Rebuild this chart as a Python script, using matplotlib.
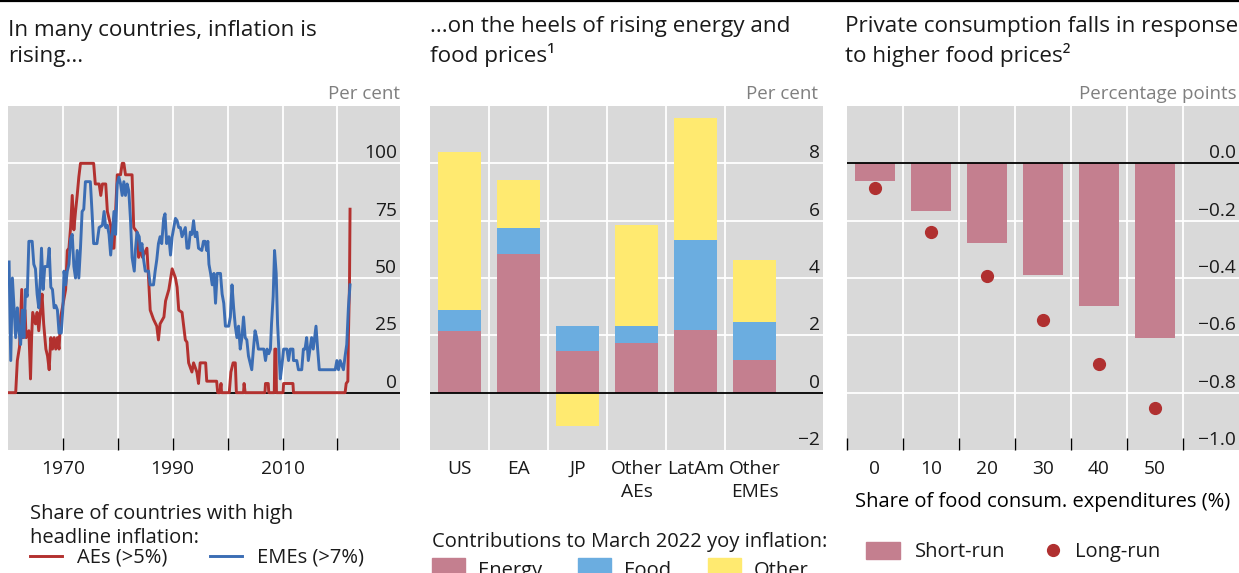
import numpy as np
import matplotlib as mpl
import matplotlib.pyplot as plt
from matplotlib.patches import Rectangle
from matplotlib.lines import Line2D

W, H = 1239, 573

# ── left panel: share of countries with high headline inflation (%) ──
ae_years = [1960.2, 1961.4, 1961.7, 1962.1, 1962.5, 1962.7, 1963.1, 1963.3, 1963.8,
            1964.1, 1964.3, 1964.5, 1965.0, 1965.3, 1965.6, 1965.9, 1966.2, 1966.5,
            1966.9, 1967.2, 1967.5, 1967.8, 1968.1, 1968.4, 1968.7, 1969.0, 1969.3,
            1969.6, 1969.9, 1970.5, 1970.8, 1971.1, 1971.4, 1971.7, 1972.0, 1972.3,
            1972.6, 1972.9, 1973.2, 1975.6, 1975.9, 1976.6, 1976.9, 1977.2, 1977.8,
            1978.1, 1978.7, 1979.0, 1979.3, 1979.6, 1979.9, 1980.5, 1980.8, 1981.1,
            1981.4, 1982.6, 1982.9, 1983.5, 1983.8, 1984.1, 1984.5, 1985.3, 1985.6,
            1985.9, 1986.5, 1987.1, 1987.4, 1987.7, 1988.4, 1988.7, 1989.3, 1989.9,
            1990.5, 1990.8, 1991.1, 1991.7, 1992.3, 1992.6, 1992.9, 1993.5, 1993.8,
            1994.4, 1994.7, 1995.0, 1996.0, 1996.2, 1998.0, 1998.2, 1998.6, 1998.8,
            1998.9, 2000.3, 2000.6, 2001.0, 2001.4, 2001.6, 2002.9, 2003.0, 2003.2,
            2006.8, 2006.9, 2007.4, 2007.5, 2008.5, 2008.6, 2008.8, 2008.9, 2010.1,
            2010.2, 2011.9, 2012.0, 2021.4, 2021.6, 2021.9, 2022.0, 2022.2, 2022.3]
ae_share = [0, 0, 14, 20, 45, 24, 36, 24, 27,
            6, 24, 35, 30, 35, 27, 35, 43, 30,
            19, 16, 10, 24, 19, 24, 19, 24, 19,
            33, 37, 45, 62, 63, 72, 86, 71, 79,
            86, 94, 100, 100, 91, 91, 86, 91, 91,
            79, 73, 63, 63, 79, 95, 95, 100, 100,
            95, 95, 72, 70, 59, 63, 59, 63, 50,
            36, 32, 29, 23, 30, 33, 40, 45, 54,
            50, 46, 36, 35, 23, 22, 13, 9, 13,
            9, 4, 13, 13, 5, 5, 0, 0, 4,
            0, 0, 9, 13, 13, 0, 0, 4, 0,
            0, 4, 4, 0, 0, 19, 19, 0, 0,
            4, 4, 0, 0, 4, 5, 24, 47, 80]

eme_years = [1960.2, 1960.5, 1960.8, 1961.1, 1961.4, 1961.7, 1962.0, 1962.3, 1962.6,
             1962.9, 1963.2, 1963.5, 1963.8, 1964.4, 1964.7, 1965.0, 1965.3, 1965.6,
             1965.9, 1966.1, 1966.4, 1966.7, 1967.2, 1967.5, 1967.8, 1968.1, 1968.4,
             1968.7, 1969.0, 1969.3, 1969.7, 1970.0, 1970.2, 1970.5, 1970.8, 1971.1,
             1971.4, 1971.7, 1972.0, 1972.3, 1972.6, 1972.9, 1973.2, 1973.5, 1973.8,
             1974.1, 1975.0, 1975.3, 1975.6, 1976.2, 1976.6, 1977.2, 1977.5, 1977.8,
             1978.1, 1978.4, 1978.7, 1979.0, 1979.3, 1979.6, 1979.9, 1980.2, 1980.5,
             1980.8, 1981.1, 1981.4, 1981.7, 1982.0, 1982.3, 1982.6, 1983.0, 1983.2,
             1983.5, 1983.9, 1984.1, 1984.4, 1984.7, 1985.0, 1985.6, 1985.9, 1986.5,
             1986.8, 1987.1, 1987.4, 1987.7, 1988.0, 1988.35, 1988.6, 1988.9, 1989.3,
             1989.6, 1989.9, 1990.2, 1990.5, 1990.8, 1991.1, 1991.4, 1991.7, 1992.0,
             1992.3, 1992.6, 1992.9, 1993.2, 1993.5, 1993.8, 1994.1, 1994.4, 1994.7,
             1995.3, 1995.6, 1995.9, 1996.2, 1996.4, 1996.6, 1996.9, 1997.2, 1997.5,
             1997.8, 1998.1, 1998.7, 1999.0, 1999.3, 1999.6, 2000.2, 2000.5, 2000.8,
             2001.1, 2001.4, 2001.7, 2002.0, 2002.3, 2002.6, 2002.9, 2003.2, 2003.5,
             2003.8, 2004.1, 2004.4, 2004.7, 2005.0, 2005.3, 2005.6, 2006.6, 2006.9,
             2007.2, 2007.5, 2007.8, 2008.0, 2008.3, 2008.55, 2008.85, 2009.1, 2009.6,
             2009.9, 2010.2, 2010.8, 2011.1, 2011.4, 2011.9, 2012.0, 2012.6, 2012.9,
             2013.5, 2013.8, 2014.1, 2014.4, 2014.7, 2015.0, 2015.3, 2015.6, 2016.1,
             2016.4, 2016.7, 2019.6, 2019.9, 2020.2, 2020.5, 2021.1, 2021.4, 2021.7,
             2022.0, 2022.3]
eme_share = [57, 14, 50, 37, 24, 37, 27, 21, 36,
             24, 45, 42, 66, 66, 56, 54, 43, 37,
             50, 63, 45, 55, 55, 63, 46, 45, 37,
             38, 36, 26, 26, 37, 53, 47, 53, 56,
             67, 69, 55, 50, 62, 50, 63, 79, 80,
             92, 92, 79, 65, 65, 72, 73, 79, 72,
             73, 69, 60, 69, 79, 69, 91, 94, 91,
             86, 92, 86, 91, 88, 76, 59, 53, 62,
             70, 68, 62, 65, 58, 53, 53, 47, 47,
             53, 58, 65, 68, 65, 76, 78, 65, 68,
             60, 68, 72, 76, 75, 72, 72, 68, 70,
             72, 63, 63, 70, 69, 75, 68, 70, 63,
             62, 66, 66, 62, 66, 56, 52, 47, 52,
             39, 52, 52, 43, 39, 29, 29, 33, 47,
             37, 29, 24, 29, 19, 24, 33, 24, 23,
             16, 13, 10, 19, 27, 24, 19, 19, 14,
             19, 17, 19, 30, 42, 62, 52, 30, 6,
             12, 19, 19, 14, 19, 19, 14, 14, 10,
             10, 19, 19, 24, 14, 19, 24, 19, 29,
             19, 10, 10, 14, 10, 14, 10, 16, 21,
             37, 47]

# ── middle panel: contributions to March 2022 yoy inflation (pp) ──
countries = ["US", "EA", "JP", "Other\nAEs", "LatAm", "Other\nEMEs"]
energy = [2.15, 4.83, 1.45, 1.72, 2.17, 1.14]
food = [0.75, 0.93, 0.86, 0.62, 3.17, 1.31]
other = [5.51, 1.65, -1.16, 3.52, 4.25, 2.17]

# ── right panel: consumption response by food expenditure share ──
food_share = [0, 10, 20, 30, 40, 50]
short_run = [-0.061, -0.168, -0.278, -0.389, -0.499, -0.609]
long_run = [-0.085, -0.238, -0.392, -0.545, -0.700, -0.853]

BG, INK, MUTED = "#d9d9d9", "#1a1a1a", "#7f7f7f"
RED, BLUE = "#b3312f", "#3b6db4"
PINK, SKY, YEL, DOT = "#c47f8f", "#6badE0", "#ffea70", "#b03030"
FS = 13.8    # tick labels
LFS = 14.5   # legends / axis label

mpl.rcParams.update({
    "font.family": ["Open Sans", "DejaVu Sans"],
    "text.color": INK,
    "xtick.color": INK,
    "xtick.labelcolor": INK,
})


def fx(px):
    return px / W


def fy(py):
    return 1 - py / H


def base(ax, ylim, yticks, ylabels, xgrid):
    ax.set_facecolor(BG)
    for s in ax.spines.values():
        s.set_visible(False)
    ax.set_ylim(*ylim)
    for y in yticks:
        if y == 0:
            ax.axhline(0, color="black", lw=1.3, zorder=3)
        elif y > ylim[0]:
            ax.axhline(y, color="white", lw=1.3, zorder=1)
    for x in xgrid:
        ax.axvline(x, color="white", lw=1.3, zorder=1)
    for y, lab in zip(yticks, ylabels):
        ax.annotate(lab, xy=(0.992, y), xycoords=("axes fraction", "data"),
                    xytext=(0, 3.5), textcoords="offset points",
                    ha="right", va="baseline", fontsize=FS, zorder=6)
    ax.tick_params(axis="y", left=False, labelleft=False)


fig = plt.figure(figsize=(W / 100, H / 100), dpi=100)
bottom, height = (H - 450) / H, 344 / H
ax1 = fig.add_axes([fx(8), bottom, 392 / W, height])
ax2 = fig.add_axes([fx(430), bottom, 393 / W, height])
ax3 = fig.add_axes([fx(847), bottom, 392 / W, height])

# 1 ── inflation share lines
ax1.set_xlim(1960, 2031.4)
base(ax1, (-25, 125), [0, 25, 50, 75, 100], ["0", "25", "50", "75", "100"],
     range(1970, 2021, 10))
ax1.plot(ae_years, ae_share, color=RED, lw=2.1, zorder=4)
ax1.plot(eme_years, eme_share, color=BLUE, lw=2.1, zorder=4)
ax1.set_xticks(range(1970, 2021, 10),
               ["1970", "", "1990", "", "2010", ""])
ax1.tick_params(axis="x", direction="in", length=9, width=1, color="black",
                labelsize=FS, pad=7)

# 2 ── stacked contributions
pos = np.arange(len(countries))
ax2.set_xlim(-0.5, 6.16)
base(ax2, (-2, 10), [-2, 0, 2, 4, 6, 8], ["\u22122", "0", "2", "4", "6", "8"],
     pos[:-1] + 0.5)
ef = np.array(energy) + np.array(food)
oth = np.array(other)
ax2.bar(pos, energy, width=0.72, color=PINK, zorder=2)
ax2.bar(pos, food, width=0.72, bottom=energy, color=SKY, zorder=2)
ax2.bar(pos, oth, width=0.72, bottom=np.where(oth >= 0, ef, 0), color=YEL,
        zorder=2)
ax2.set_xticks(pos, countries)
ax2.tick_params(axis="x", length=0, labelsize=FS, pad=7)
for t in ax2.get_xticklabels():
    t.set_linespacing(1.4)

# 3 ── short- vs long-run response
pos3 = np.arange(len(food_share))
ax3.set_xlim(-0.5, 6.5)
base(ax3, (-1.0, 0.2), [-1.0, -0.8, -0.6, -0.4, -0.2, 0.0],
     ["\u22121.0", "\u22120.8", "\u22120.6", "\u22120.4", "\u22120.2", "0.0"],
     pos3 + 0.5)
ax3.bar(pos3, short_run, width=0.73, color=PINK, zorder=2)
ax3.plot(pos3, long_run, "o", color=DOT, ms=8.5, zorder=5)
ax3.set_xticks(pos3, [str(v) for v in food_share])
ax3.set_xticks(np.arange(-0.5, 6, 1), minor=True)
ax3.tick_params(axis="x", which="major", length=0, labelsize=FS, pad=7)
ax3.tick_params(axis="x", which="minor", direction="in", length=9, width=1,
                color="black")
ax3.set_xlabel("Share of food consum. expenditures (%)", fontsize=LFS,
               labelpad=10)

# titles and units (va='baseline' pins the last line)
fig.add_artist(Line2D([0, 1], [fy(1), fy(1)], color="black", lw=1.6))
tkw = dict(fontsize=16.2, va="baseline", ha="left", linespacing=1.3)
fig.text(fx(8), fy(62), "In many countries, inflation is\nrising...", **tkw)
fig.text(fx(430), fy(62), "...on the heels of rising energy and\nfood prices\u00b9",
         **tkw)
fig.text(fx(845), fy(62),
         "Private consumption falls in response\nto higher food prices\u00b2",
         **tkw)
ukw = dict(fontsize=13.5, color=MUTED, ha="right", va="baseline")
fig.text(fx(400), fy(99), "Per cent", **ukw)
fig.text(fx(818), fy(99), "Per cent", **ukw)
fig.text(fx(1237), fy(99), "Percentage points", **ukw)

# legends
lkw = dict(fontsize=LFS, va="baseline", ha="left")
fig.text(fx(30), fy(543), "Share of countries with high\nheadline inflation:",
         linespacing=1.25, **lkw)
fig.add_artist(Line2D([fx(30), fx(62)], [fy(556), fy(556)], color=RED, lw=2.1))
fig.text(fx(77), fy(563), "AEs (>5%)", **lkw)
fig.add_artist(Line2D([fx(210), fx(242)], [fy(556), fy(556)], color=BLUE,
                      lw=2.1))
fig.text(fx(257), fy(563), "EMEs (>7%)", **lkw)

fig.text(fx(432), fy(547), "Contributions to March 2022 yoy inflation:", **lkw)
for x0, col, lab in [(432, PINK, "Energy"), (578, SKY, "Food"),
                     (708, YEL, "Other")]:
    fig.add_artist(Rectangle((fx(x0), fy(576)), 33 / W, 18 / H, color=col,
                             transform=fig.transFigure))
    fig.text(fx(x0 + 46), fy(576), lab, **lkw)

fig.add_artist(Rectangle((fx(866), fy(559)), 34 / W, 17 / H, color=PINK,
                         transform=fig.transFigure))
fig.text(fx(915), fy(557), "Short-run", **lkw)
fig.add_artist(Line2D([fx(1053)], [fy(550)], marker="o", ms=8.5, color=DOT,
                      lw=0))
fig.text(fx(1075), fy(557), "Long-run", **lkw)

fig.savefig("out.png", dpi=100)
